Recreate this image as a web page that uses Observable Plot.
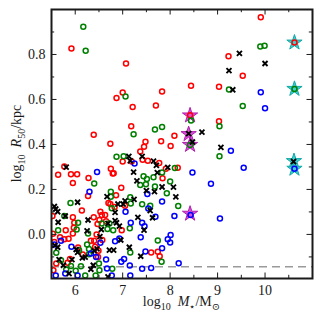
<!DOCTYPE html>
<html>
<head>
<meta charset="utf-8">
<script src="https://cdn.jsdelivr.net/npm/d3@7"></script>
<script src="https://cdn.jsdelivr.net/npm/@observablehq/plot@0.6"></script>
<style>
  html, body { margin: 0; padding: 0; background: white; }
  #chart { width: 322px; height: 320px; }
</style>
</head>
<body>
<div id="chart"></div>
<script>
// ---- data (log10 M*/Msun, log10 R50/kpc) ----
const redPts = [
  [5.92,0.827],[7.07,0.760],[7.00,0.631],[6.87,0.607],[7.21,0.567],[7.83,0.635],[7.70,0.573],
  [7.18,0.481],[6.39,0.443],[7.48,0.412],[7.45,0.390],[7.81,0.414],[8.09,0.439],[8.01,0.393],
  [6.74,0.403],[7.37,0.369],[7.00,0.324],[7.19,0.324],[7.42,0.332],[7.53,0.327],[7.77,0.318],
  [6.75,0.292],[6.79,0.271],[5.77,0.302],[5.64,0.265],[5.91,0.268],[6.04,0.268],[5.95,0.229],
  [6.28,0.251],[7.84,0.250],[7.91,0.292],[8.16,0.296],[8.44,0.661],[9.23,0.792],[9.91,0.966],
  [9.53,0.705],[9.03,0.656],[9.03,0.503],[10.62,0.853],[8.42,0.530],
  [6.14,0.106],[5.52,0.082],[5.95,0.076],[5.98,0.052],[5.97,0.030],[5.80,0.019],[5.95,0.004],
  [5.68,-0.013],[5.77,-0.022],[5.86,-0.019],[5.53,0.003],[5.56,-0.034],[6.39,0.076],[6.47,0.046],
  [6.51,0.064],[6.56,0.086],[6.63,0.086],[6.65,0.058],[6.70,0.140],[6.74,0.135],[6.83,0.122],
  [6.86,0.174],[6.97,0.208],[6.27,0.171],[6.53,0.101],[6.33,-0.028],[6.40,-0.028],[6.42,-0.055],
  [6.49,-0.073],[6.48,-0.100],[6.57,-0.025],[6.06,-0.058],[6.16,-0.089],[5.89,-0.109],[5.84,-0.126],
  [5.60,-0.129],[5.54,-0.159],[7.74,-0.077],[7.78,-0.097],[7.60,-0.080],[6.98,0.019],[6.45,0.000],
  [7.05,0.128],[6.81,0.272]
];
const greenPts = [
  [6.17,0.923],[6.22,0.817],[7.06,0.613],[7.23,0.445],[7.68,0.466],[7.83,0.478],[6.87,0.345],
  [7.02,0.348],[9.24,0.644],[9.90,0.836],[9.99,0.839],[9.53,0.571],[9.04,0.481],[9.04,0.347],
  [8.44,0.507],[8.42,0.397],[10.62,0.647],[5.90,0.140],[6.40,0.226],[7.44,0.259],[7.49,0.223],
  [7.65,0.254],[7.83,0.275],[8.00,0.235],[7.93,0.183],[8.10,0.295],[8.17,0.126],[7.41,0.134],
  [7.51,0.246],[7.37,0.220],[7.16,0.165],[7.17,0.138],[6.75,0.190],[6.75,0.168],[6.06,0.052],
  [5.77,0.082],[7.58,0.128],[7.68,0.213],
  [5.60,-0.082],[5.70,-0.115],[5.81,-0.156],[5.91,-0.140],[6.01,-0.162],[6.12,-0.141],[6.21,-0.183],
  [6.43,-0.183],[6.50,-0.129],[6.51,-0.159],[6.29,-0.065],[6.25,-0.045],[6.29,-0.088],[6.08,-0.070],
  [6.03,0.022],[6.27,0.004],[6.68,0.024],[6.72,0.049],[7.15,0.027],[7.16,-0.080],[7.74,-0.027],
  [7.82,-0.121],[6.78,-0.153],[5.64,0.019],[6.56,0.049],[6.77,0.116],[6.80,0.019]
];
const bluePts = [
  [6.46,0.278],[6.30,0.190],[7.25,0.315],[9.28,0.372],[8.47,0.275],[9.55,0.296],[8.86,0.225],
  [9.05,0.071],[9.91,0.632],[10.00,0.561],[10.62,0.292],[8.43,0.086],[7.52,0.180],[7.54,0.115],
  [7.83,0.146],[7.69,0.079],[8.09,0.082],[7.06,0.101],[7.17,0.052],[7.41,0.052],[7.46,0.036],
  [7.38,-0.013],[7.48,-0.076],[7.95,-0.022],[8.01,-0.003],[8.00,-0.036],[7.83,-0.062],[8.18,-0.128],
  [7.60,-0.149],[7.41,-0.153],[7.03,-0.109],[7.15,-0.138],[7.16,-0.183],[6.77,-0.183],[6.44,-0.100],
  [5.59,-0.183],[5.92,-0.055],[5.70,-0.028],[6.65,-0.112],[6.67,-0.152],[6.97,-0.122],[6.53,-0.037],
  [6.93,-0.018],[6.84,-0.030],[5.56,-0.045],[5.79,-0.174],[6.05,-0.183],[6.33,-0.085]
];
const crossPts = [
  [9.46,0.805],[9.24,0.728],[10.00,0.760],[9.32,0.643],[8.67,0.455],[8.47,0.411],[8.39,0.448],
  [9.07,0.387],[10.60,0.324],[7.95,0.298],[7.65,0.326],[7.71,0.307],[7.73,0.275],[7.13,0.347],
  [7.16,0.327],[7.23,0.277],[7.41,0.347],[7.30,0.238],[7.50,0.195],[7.67,0.190],[7.83,0.211],
  [8.07,0.210],[8.12,0.167],[7.58,0.106],[7.63,0.074],[7.32,0.076],[7.45,0.019],[7.38,-0.097],
  [7.14,-0.057],[7.24,0.156],[7.05,0.149],[7.01,0.135],[6.90,0.135],[6.67,0.168],[6.84,0.098],
  [6.84,0.061],[6.87,0.052],[6.93,0.037],[6.96,-0.025],[6.55,0.022],[6.52,-0.010],[6.46,-0.064],
  [6.40,-0.073],[6.33,-0.155],[6.38,-0.137],[6.05,0.143],[5.81,0.299],[5.63,0.101],[5.59,0.113],
  [5.64,0.054],[5.57,-0.049],[5.63,-0.057],[5.66,-0.112],[5.75,-0.137],[5.87,-0.174],[6.02,-0.067],
  [6.05,-0.080],[6.25,0.016],[6.27,0.064],[6.21,-0.101],[6.15,-0.104],[5.93,-0.112],[5.79,0.082],
  [6.81,-0.070],[6.72,-0.070],[6.69,-0.189],[5.56,0.124],[6.69,0.049]
];
const magentaStars = [[8.42,0.529],[8.39,0.446],[8.42,0.398],[8.42,0.092]];
const cyanStars = [[10.62,0.853],[10.62,0.647],[10.61,0.326],[10.62,0.292]];
const limitY = [-0.144];

const xTicks = [6, 7, 8, 9, 10];
const xMinor = [5.5, 6.5, 7.5, 8.5, 9.5, 10.5];
const yTicks = [0.0, 0.2, 0.4, 0.6, 0.8];
const yMinor = [-0.1, 0.1, 0.3, 0.5, 0.7, 0.9];
const xDomain = [5.5, 11.0];
const yDomain = [-0.196, 1.0];

// ---- layout ----
const W = 322, H = 320;
const mT = 9, mR = 10, mB = 42, mL = 51;
const iW = W - mL - mR, iH = H - mT - mB;
const ink = "#1a1a1a";
const serif = "'Liberation Serif', 'DejaVu Serif', serif";

const circle = (pts, color) => Plot.dot(pts, {
  x: d => d[0], y: d => d[1], r: 2.5, stroke: color, strokeWidth: 1.5, fill: "none", clip: true
});

const chart = Plot.plot({
  width: W, height: H,
  marginTop: mT, marginRight: mR, marginBottom: mB, marginLeft: mL,
  x: { domain: xDomain },
  y: { domain: yDomain },
  style: { fontFamily: serif, fontSize: "14px", color: ink, background: "white" },
  marks: [
    Plot.ruleY(limitY, { stroke: "#9a9a9a", strokeWidth: 1.6, strokeDasharray: "8,5" }),
    Plot.dot(magentaStars, { x: d => d[0], y: d => d[1], symbol: "star", r: 4.8,
      fill: "#d94fd9", stroke: "#b020b0", strokeWidth: 1 }),
    Plot.dot(cyanStars, { x: d => d[0], y: d => d[1], symbol: "star", r: 4.8,
      fill: "#3cd0d0", stroke: "#14a8a8", strokeWidth: 1 }),
    circle(redPts, "#ff0000"),
    circle(greenPts, "#008000"),
    circle(bluePts, "#0000ff"),
    Plot.dot(crossPts, { x: d => d[0], y: d => d[1], symbol: "times", r: 2.4,
      stroke: "#000", strokeWidth: 1.9, clip: true }),
    // inward ticks on all sides
    Plot.ruleX(xTicks, { insetTop: iH - 5.5, stroke: ink, strokeWidth: 1 }),
    Plot.ruleX(xTicks, { insetBottom: iH - 5.5, stroke: ink, strokeWidth: 1 }),
    Plot.ruleX(xMinor, { insetTop: iH - 3.2, stroke: ink, strokeWidth: 1 }),
    Plot.ruleX(xMinor, { insetBottom: iH - 3.2, stroke: ink, strokeWidth: 1 }),
    Plot.ruleY(yTicks, { insetRight: iW - 5.5, stroke: ink, strokeWidth: 1 }),
    Plot.ruleY(yTicks, { insetLeft: iW - 5.5, stroke: ink, strokeWidth: 1 }),
    Plot.ruleY(yMinor, { insetRight: iW - 3.2, stroke: ink, strokeWidth: 1 }),
    Plot.ruleY(yMinor, { insetLeft: iW - 3.2, stroke: ink, strokeWidth: 1 }),
    Plot.axisX({ ticks: xTicks, tickSize: 0, tickPadding: 7, label: null, tickFormat: d3.format("d") }),
    Plot.axisY({ ticks: yTicks, tickSize: 0, tickPadding: 6, label: null, tickFormat: d3.format(".1f") }),
    Plot.frame({ stroke: ink, strokeWidth: 2 })
  ]
});

document.getElementById("chart").appendChild(chart);

// ---- axis titles with subscripts ----
function richLabel(svg, parts, attrs) {
  const t = svg.append("text")
    .attr("font-family", serif)
    .attr("font-size", 14)
    .attr("fill", ink)
    .attr("text-anchor", "middle");
  for (const [k, v] of Object.entries(attrs)) t.attr(k, v);
  let shift = 0;
  for (const [txt, kind] of parts) {
    const s = t.append("tspan").text(txt);
    const target = kind === "sub" ? 3.5 : 0;
    if (target !== shift) { s.attr("dy", target - shift); shift = target; }
    if (kind === "sub") s.attr("font-size", 10);
    if (kind === "i") s.attr("font-style", "italic");
  }
  return t;
}
const svg = d3.select(chart);
richLabel(svg, [["log", "n"], ["10", "sub"], ["\u2002", "n"], ["M", "i"], ["\u22c6", "sub"], ["/M", "n"], ["\u2299", "sub"]],
  { x: mL + iW / 2, y: 306 });
richLabel(svg, [["log", "n"], ["10", "sub"], ["\u2002", "n"], ["R", "i"], ["50", "sub"], ["/kpc", "n"]],
  { transform: `translate(21,${mT + iH / 2}) rotate(-90)` });
</script>
</body>
</html>
